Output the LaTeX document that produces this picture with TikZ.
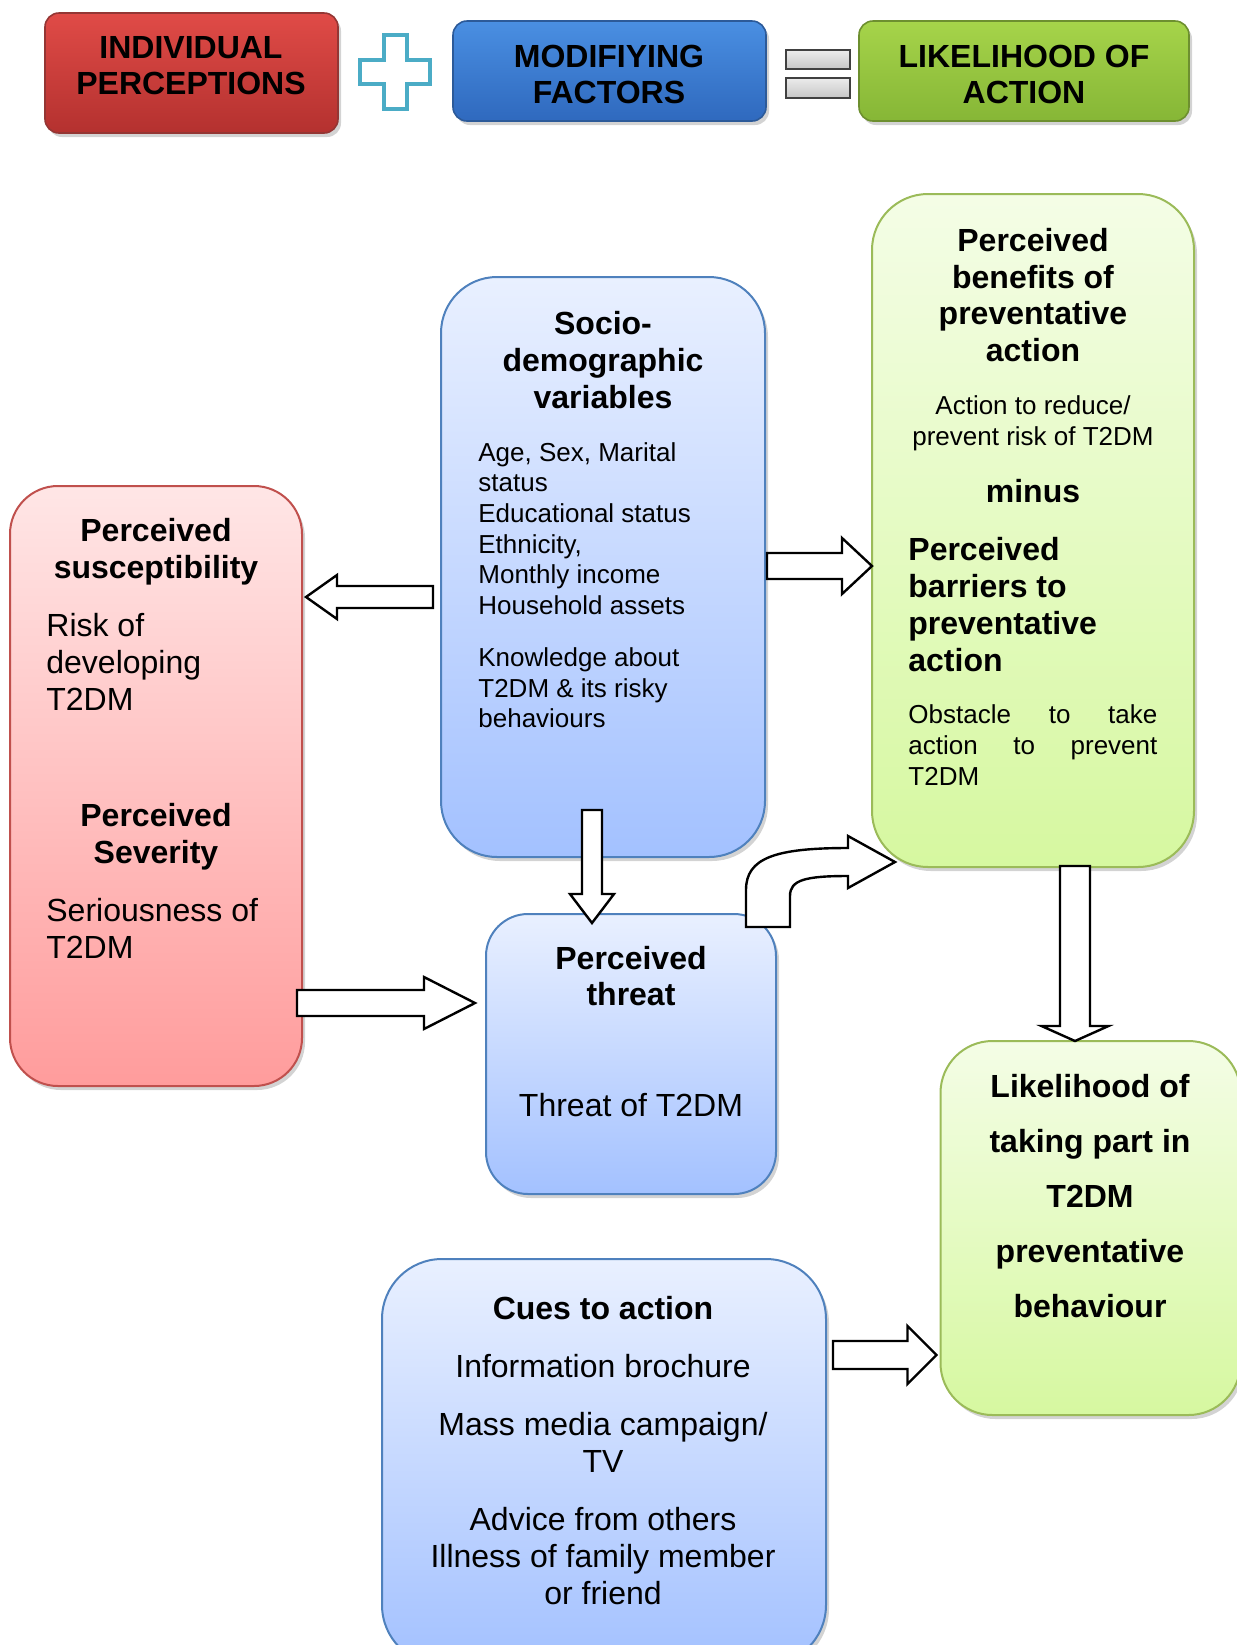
\documentclass[tikz,border=0pt]{standalone}
\usepackage{fontspec}
\setmainfont{Liberation Sans}
\usepackage{tikz}
\usetikzlibrary{calc,positioning,shadows}
\usepackage{xcolor}

\definecolor{redTop}{HTML}{FFE6E6}
\definecolor{redBot}{HTML}{FF9C9C}
\definecolor{redLine}{HTML}{C0504D}
\definecolor{blueTop}{HTML}{E9F0FF}
\definecolor{blueBot}{HTML}{A3C1FF}
\definecolor{blueLine}{HTML}{4F81BD}
\definecolor{greenTop}{HTML}{F4FDE6}
\definecolor{greenBot}{HTML}{D6F8A0}
\definecolor{greenLine}{HTML}{9BBB59}
\definecolor{hdRedTop}{HTML}{E04B47}
\definecolor{hdRedBot}{HTML}{B4312F}
\definecolor{hdRedLine}{HTML}{943634}
\definecolor{hdBlueTop}{HTML}{4A8FE2}
\definecolor{hdBlueBot}{HTML}{2F69BE}
\definecolor{hdBlueLine}{HTML}{2C5A99}
\definecolor{hdGreenTop}{HTML}{A6D44A}
\definecolor{hdGreenBot}{HTML}{86B636}
\definecolor{hdGreenLine}{HTML}{6D8F2F}
\definecolor{plusLine}{HTML}{4BACC6}

\newcommand{\boxtitle}{\fontsize{16}{18.4}\selectfont\bfseries}
\newcommand{\boxtext}{\fontsize{16}{18.4}\selectfont}
\newcommand{\boxsmall}{\fontsize{13}{15.3}\selectfont}
\newcommand{\likefont}{\fontsize{16}{27.5}\selectfont\bfseries}

% fat outlined arrow: from, to, shaft half width, head half width, head length
\newcommand{\fatarrow}[5]{%
  \coordinate (fa-h) at ($(#2)!#5!(#1)$);
  \draw[fatline] ($(#1)!#3!90:(#2)$) -- ($(fa-h)!#3!90:(#2)$) -- ($(fa-h)!#4!90:(#2)$)
    -- (#2) -- ($(fa-h)!#4!-90:(#2)$) -- ($(fa-h)!#3!-90:(#2)$) -- ($(#1)!#3!-90:(#2)$) -- cycle;
}

\begin{document}
\begin{tikzpicture}[x=0.5pt, y=-0.5pt,
    roundbox/.style={rounded corners=#1, line width=1pt, inner sep=0pt, outer sep=0pt,
      drop shadow={shadow xshift=1.5pt, shadow yshift=-2pt, opacity=0.35, fill=black!50}},
    redbox/.style={roundbox=#1, draw=redLine, top color=redTop, bottom color=redBot},
    bluebox/.style={roundbox=#1, draw=blueLine, top color=blueTop, bottom color=blueBot},
    greenbox/.style={roundbox=#1, draw=greenLine, top color=greenTop, bottom color=greenBot},
    hdbox/.style={roundbox=7pt, line width=0.8pt},
    titletext/.style={inner sep=0pt, align=center, font=\boxtitle},
    plaintext/.style={inner sep=0pt, align=#1, font=\boxtext},
    smalltext/.style={inner sep=0pt, align=#1, font=\boxsmall},
    fatline/.style={draw=black, fill=white, line width=1.2pt, line join=miter}]

    \useasboundingbox (0,0) rectangle (1237,1645);

    % Header boxes
    \node[hdbox, draw=hdRedLine, top color=hdRedTop, bottom color=hdRedBot,
      minimum width=146.5pt, minimum height=60pt] (hd-ind) at (191.5,73) {};
    \node[hdbox, draw=hdBlueLine, top color=hdBlueTop, bottom color=hdBlueBot,
      minimum width=156.5pt, minimum height=50pt] (hd-mod) at (609.5,71) {};
    \node[hdbox, draw=hdGreenLine, top color=hdGreenTop, bottom color=hdGreenBot,
      minimum width=165pt, minimum height=50pt] (hd-lik) at (1024,71) {};
    \node[titletext, font=\fontsize{16}{18}\selectfont\bfseries] (hd-ind-t) at (191,66) {INDIVIDUAL\\PERCEPTIONS};
    \node[titletext, font=\fontsize{16}{18}\selectfont\bfseries] (hd-mod-t) at (609,74) {MODIFIYING\\FACTORS};
    \node[titletext, font=\fontsize{16}{18}\selectfont\bfseries] (hd-lik-t) at (1024,74) {LIKELIHOOD OF\\ACTION};

    % Plus and equals signs
    \draw[plusLine, line width=2pt, fill=white, line join=miter]
      (383.5,35) -- (406.5,35) -- (406.5,60) -- (430,60) -- (430,84) -- (406.5,84)
      -- (406.5,109) -- (383.5,109) -- (383.5,84) -- (360,84) -- (360,60) -- (383.5,60) -- cycle;
    \draw[black!75, line width=1pt, top color=gray!15, bottom color=gray!45] (786,50) rectangle (850,69);
    \draw[black!75, line width=1pt, top color=gray!15, bottom color=gray!45] (786,78) rectangle (850,98);

    % Main boxes
    \node[bluebox=28pt, minimum width=162pt, minimum height=290pt] (socio) at (603,567) {};
    \node[greenbox=28pt, minimum width=161pt, minimum height=336.5pt] (ben) at (1033,530.5) {};
    \node[redbox=24pt, minimum width=146pt, minimum height=300pt] (sus) at (156,786) {};
    \node[bluebox=21pt, minimum width=145pt, minimum height=140pt] (thr) at (631,1054) {};
    \node[greenbox=26pt, minimum width=150pt, minimum height=187pt] (like) at (1090.5,1228) {};
    \node[bluebox=30pt, minimum width=222pt, minimum height=203pt] (cues) at (604,1462) {};

    % Socio-demographic variables
    \node[titletext] (socio-t) at (603,360) {Socio-\\demographic\\variables};
    \node[smalltext=left, anchor=west] (socio-a) at (478,528.5)
      {Age, Sex, Marital\\status\\Educational status\\Ethnicity,\\Monthly income\\Household assets};
    \node[smalltext=left, anchor=west] (socio-b) at (478,688) {Knowledge about\\T2DM \& its risky\\behaviours};

    % Benefits and barriers
    \node[titletext] (ben-t) at (1033,295) {Perceived\\benefits of\\preventative\\action};
    \node[smalltext=center] (ben-a) at (1033,423.5) {Action to reduce/\\prevent risk of T2DM};
    \node[titletext] (ben-m) at (1033,491) {minus};
    \node[titletext, align=left, anchor=west] (bar-t) at (908,604.5) {Perceived\\barriers to\\preventative\\action};
    \node[smalltext=left, anchor=west] (bar-a) at (908,745)
      {\makebox[124.5pt][s]{Obstacle to take}\\\makebox[124.5pt][s]{action to prevent}\\T2DM};

    % Susceptibility and severity
    \node[titletext] (sus-t) at (156,551.5) {Perceived\\susceptibility};
    \node[plaintext=left, anchor=west] (sus-a) at (46,662) {Risk of\\developing\\T2DM};
    \node[titletext] (sev-t) at (156,836.5) {Perceived\\Severity};
    \node[plaintext=left, anchor=west] (sev-a) at (46,928.5) {Seriousness of\\T2DM};

    % Threat
    \node[titletext] (thr-t) at (631,976) {Perceived\\threat};
    \node[plaintext=center] (thr-a) at (631,1105) {Threat of T2DM};

    % Likelihood
    \node[titletext, font=\likefont] (like-t) at (1090,1196)
      {Likelihood of\\taking part in\\T2DM\\preventative\\behaviour};

    % Cues to action
    \node[titletext] (cues-t) at (603,1308) {Cues to action};
    \node[plaintext=center] (cues-a) at (603,1366) {Information brochure};
    \node[plaintext=center] (cues-b) at (603,1442) {Mass media campaign/\\TV};
    \node[plaintext=center] (cues-c) at (603,1556) {Advice from others\\Illness of family member\\or friend};

    % Fat arrows between boxes
    \coordinate (a1-s) at ($(socio.west)+(-8,30)$);
    \coordinate (a1-e) at ([xshift=2pt]a1-s -| sus.east);
    \fatarrow{a1-s}{a1-e}{5.5pt}{11pt}{15.5pt}

    \coordinate (a2-s) at ($(socio.east)+(2,-1)$);
    \coordinate (a2-e) at (a2-s -| ben.west);
    \fatarrow{a2-s}{a2-e}{6.5pt}{14pt}{15pt}

    \coordinate (a3-s) at ($(socio.south)+(-11,-47)$);
    \coordinate (a3-e) at ([yshift=-4.5pt]a3-s |- thr.north);
    \fatarrow{a3-s}{a3-e}{5pt}{11pt}{14.5pt}

    \coordinate (a4-s) at ($(sus.east)+(-5,217)$);
    \coordinate (a4-e) at ([xshift=-5.5pt]a4-s -| thr.west);
    \fatarrow{a4-s}{a4-e}{6.5pt}{13pt}{25.5pt}

    \coordinate (a5-s) at ($(ben.south)+(42,-1)$);
    \coordinate (a5-e) at (a5-s |- like.north);
    \fatarrow{a5-s}{a5-e}{7.5pt}{16.75pt}{7.5pt}

    \coordinate (a6-s) at ($(cues.east)+(7,-107)$);
    \coordinate (a6-e) at ([xshift=-2pt]a6-s -| like.west);
    \fatarrow{a6-s}{a6-e}{7pt}{14.5pt}{14.5pt}

    % Bent arrow from threat to benefits
    \coordinate (cv-s) at ($(thr.north east)+(-30,13)$);
    \draw[fatline, shift={(cv-s)}] (0,0) -- (0,-37) .. controls (0,-69) and (29,-79) .. (102,-79)
      -- (102,-91) -- (149,-65) -- (102,-39) -- (102,-51) .. controls (59,-51) and (44,-47) .. (44,-31)
      -- (44,0) -- cycle;
\end{tikzpicture}
\end{document}
